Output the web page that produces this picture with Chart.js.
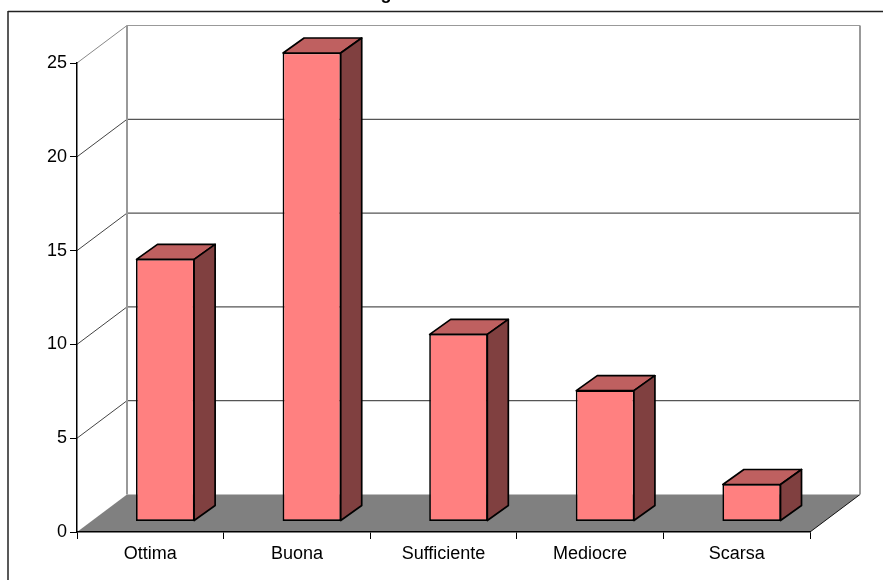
<!DOCTYPE html>
<html><head><meta charset="utf-8">
<style>html,body{margin:0;padding:0;background:#fff;overflow:hidden}canvas{display:block}</style>
<script src="https://cdn.jsdelivr.net/npm/chart.js@4"></script>
</head><body><canvas id="c" width="883" height="580"></canvas>
<script>
const categories = ["Ottima","Buona","Sufficiente","Mediocre","Scarsa"];
const votes = [14,25,10,7,2];
const titleFragment = "g";

const FONT = "'Liberation Sans', Arial, sans-serif";
const wallDepth = {x:50, y:-37.5};
const barShift = {x:15, y:-10.5};
const barDepth = {x:21, y:-15};

function poly(ctx, pts, fill, stroke, lw){
  ctx.beginPath();
  pts.forEach((p,i)=> i?ctx.lineTo(p[0],p[1]):ctx.moveTo(p[0],p[1]));
  ctx.closePath();
  if(fill){ctx.fillStyle=fill;ctx.fill();}
  if(stroke){ctx.strokeStyle=stroke;ctx.lineWidth=lw;ctx.stroke();}
}
function seg(ctx,x1,y1,x2,y2,c,w){
  ctx.beginPath();ctx.moveTo(x1,y1);ctx.lineTo(x2,y2);ctx.strokeStyle=c;ctx.lineWidth=w;ctx.stroke();
}
const scene3d = {
  id:"scene3d",
  beforeDraw(chart){
    const {ctx,chartArea:a,scales:{y}} = chart;
    const d = wallDepth;
    ctx.save();
    ctx.fillStyle="#fff";ctx.fillRect(0,0,chart.width,chart.height);
    // outer frame
    seg(ctx,8,11.5,883,11.5,"#222",1.5);
    seg(ctx,8,11,8,580,"#222",1.5);
    // clipped title
    ctx.fillStyle="#000";ctx.font="bold 18px "+FONT;ctx.textAlign="center";ctx.textBaseline="alphabetic";
    ctx.fillText(titleFragment,386,-1);
    const y0 = y.getPixelForValue(0), yT = y.getPixelForValue(y.max);
    // floor
    poly(ctx,[[a.left,y0],[a.right,y0],[a.right+d.x,y0+d.y],[a.left+d.x,y0+d.y]],"#808080");
    seg(ctx,a.right,y0,a.right+d.x,y0+d.y,"#111",1);
    // wall gridlines
    y.ticks.forEach(t=>{
      const p = y.getPixelForValue(t.value);
      if(t.value>0){
        seg(ctx,a.left,p,a.left+d.x,p+d.y,t.value===y.max?"#888":"#444",1);
        seg(ctx,a.left+d.x,p+d.y,a.right+d.x,p+d.y,t.value===y.max?"#999":"#555",1.2);
      }
    });
    // wall verticals
    seg(ctx,a.left+d.x,yT+d.y,a.left+d.x,y0+d.y,"#999",2);
    seg(ctx,a.right+d.x,yT+d.y,a.right+d.x,y0+d.y,"#999",2);
    ctx.restore();
  },
  beforeDatasetsDraw(chart){
    chart.ctx.save();
    chart.ctx.translate(barShift.x,barShift.y);
  },
  afterDatasetsDraw(chart){
    const ctx = chart.ctx;
    ctx.restore();
    const b = barDepth;
    ctx.save();
    ctx.lineJoin="round";
    chart.getDatasetMeta(0).data.forEach(el=>{
      const l = el.x-el.width/2+barShift.x+0.5, r = el.x+el.width/2+barShift.x-0.5;
      const t = el.y+barShift.y+0.5, bt = el.base+barShift.y-0.5;
      poly(ctx,[[l,t],[r,t],[r+b.x,t+b.y],[l+b.x,t+b.y]],"#BF6060","#000",1.7);
      poly(ctx,[[r,t],[r+b.x,t+b.y],[r+b.x,bt+b.y],[r,bt]],"#804040","#000",1.7);
    });
    ctx.restore();
  }
};

new Chart(document.getElementById("c"),{
  type:"bar",
  data:{labels:categories,datasets:[{
    data:votes,
    backgroundColor:"#FF8080",
    borderColor:"#000",
    borderWidth:1.7,
    borderSkipped:false,
    categoryPercentage:0.4,
    barPercentage:1
  }]},
  options:{
    responsive:false,
    animation:false,
    devicePixelRatio:1,
    layout:{padding:{top:63,right:73,left:0,bottom:0}},
    plugins:{legend:{display:false},tooltip:{enabled:false},title:{display:false}},
    scales:{
      x:{
        offset:true,
        afterFit(s){s.height=48;},
        grid:{display:true,drawOnChartArea:false,drawTicks:true,tickLength:7,offset:true,color:"#000",lineWidth:1},
        border:{display:true,color:"#000",width:1.5},
        ticks:{color:"#000",font:{family:FONT,size:18},maxRotation:0,padding:4}
      },
      y:{
        min:0,max:25,
        afterFit(s){s.width=77;},
        grid:{display:true,drawOnChartArea:false,drawTicks:true,tickLength:7,color:"#000",lineWidth:1},
        border:{display:true,color:"#000",width:1.5},
        ticks:{stepSize:5,color:"#000",font:{family:FONT,size:18},padding:3}
      }
    }
  },
  plugins:[scene3d]
});
</script></body></html>
